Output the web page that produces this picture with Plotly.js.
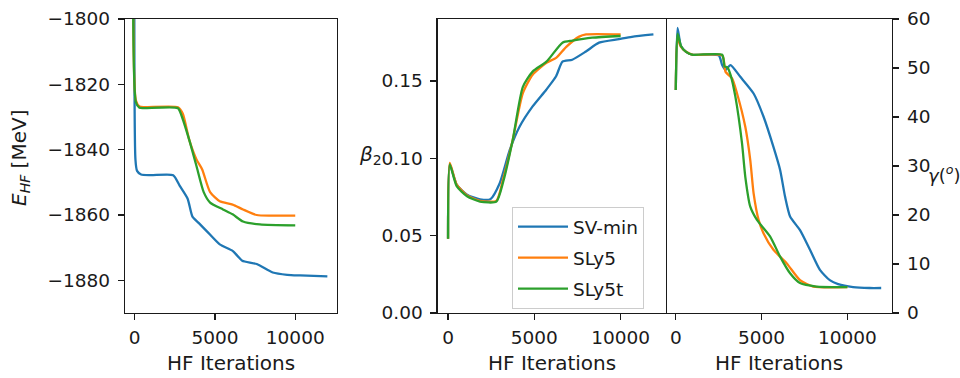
<!DOCTYPE html>
<html>
<head>
<meta charset="utf-8">
<script src="https://cdn.plot.ly/plotly-3.0.1.min.js"></script>
<style>html,body{margin:0;padding:0;background:#fff;}#chart{width:960px;height:378px;}</style>
</head>
<body>
<div id="chart"></div>
<script>
// ---- Data ----
const seriesNames = ["SV-min", "SLy5", "SLy5t"];
const colors = ["#1f77b4", "#ff7f0e", "#2ca02c"];

// Panel 1: E_HF [MeV] vs HF iterations
const eSVminX = [0, 50, 150, 400, 1000, 2400, 2800, 3300, 3600, 4000, 4500, 5300, 6100, 6400, 6700, 7600, 8600, 9500, 10300, 12000];
const eSVminY = [-1700, -1843, -1846.5, -1847.6, -1847.8, -1847.8, -1851, -1855, -1860.5, -1862.5, -1865, -1869, -1871, -1872.5, -1874, -1875, -1877.6, -1878.3, -1878.5, -1878.8];
const eSLy5X = [0, 80, 300, 600, 2700, 3000, 3400, 3850, 4200, 4700, 5300, 6100, 6750, 7600, 8500, 10000];
const eSLy5Y = [-1700, -1825, -1826.8, -1827, -1827, -1829, -1837, -1843, -1846, -1853, -1855.8, -1856.8, -1858.3, -1860, -1860.2, -1860.2];
const eSLy5tX = [0, 80, 300, 600, 2700, 2900, 3400, 3850, 4300, 4700, 5500, 6100, 6750, 7800, 10000];
const eSLy5tY = [-1700, -1825.5, -1827.2, -1827.3, -1827.3, -1829.3, -1837, -1845, -1853, -1856.2, -1858.3, -1859.8, -1862, -1862.9, -1863.2];

// Panel 2: beta_2 vs HF iterations
const bSVminX = [0, 100, 500, 1100, 1850, 2450, 3000, 3580, 4150, 4900, 5690, 6260, 6630, 7200, 7990, 8750, 9900, 10650, 11900];
const bSVminY = [0.048, 0.096, 0.083, 0.0765, 0.0735, 0.0735, 0.084, 0.1055, 0.1205, 0.1335, 0.1443, 0.153, 0.1624, 0.1637, 0.169, 0.1747, 0.177, 0.1785, 0.18];
const bSLy5X = [0, 100, 500, 1100, 1850, 2800, 3180, 3750, 4330, 4900, 5700, 6280, 6850, 7600, 8000, 10000];
const bSLy5Y = [0.048, 0.097, 0.083, 0.076, 0.0725, 0.0725, 0.086, 0.112, 0.142, 0.154, 0.1617, 0.165, 0.172, 0.1786, 0.18, 0.18];
const bSLy5tX = [0, 100, 500, 1100, 1850, 2800, 3200, 3750, 4330, 4900, 5700, 6630, 7200, 8350, 10000];
const bSLy5tY = [0.048, 0.096, 0.082, 0.0755, 0.072, 0.072, 0.085, 0.112, 0.146, 0.156, 0.1624, 0.1747, 0.176, 0.1779, 0.179];

// Panel 3: gamma (deg) vs HF iterations
const gSVminX = [0, 100, 300, 600, 1000, 2500, 2700, 2900, 3185, 3760, 4535, 5110, 5690, 6080, 6370, 6660, 7240, 7820, 8400, 8975, 9460, 10330, 11290, 11970];
const gSVminY = [45.5, 58.2, 54.5, 53.3, 52.7, 52.6, 50.6, 49.6, 50.6, 48.2, 44.8, 40.1, 33.9, 29.2, 23.7, 19.7, 16.9, 12.9, 8.8, 6.7, 5.9, 5.3, 5.1, 5.1];
const gSLy5X = [0, 100, 300, 600, 1000, 2700, 2900, 3280, 3570, 4050, 4340, 4535, 4825, 5110, 5690, 6470, 7240, 8010, 10000];
const gSLy5Y = [45.5, 56, 54.3, 53.3, 52.7, 52.6, 49.2, 47.9, 44.8, 38, 31.2, 24.4, 19, 16.3, 12.9, 10.1, 6.7, 5.4, 5.3];
const gSLy5tX = [0, 100, 300, 600, 1000, 2700, 2850, 3000, 3200, 3475, 3860, 4050, 4340, 4730, 5500, 6080, 6660, 7240, 8200, 10000];
const gSLy5tY = [45.5, 57, 54.5, 53.3, 52.7, 52.7, 50.3, 50.2, 48.5, 44.1, 34.6, 27.8, 21.7, 19, 15.6, 11.5, 8.1, 6.1, 5.4, 5.3];

const xTickVals = [0, 5000, 10000];
const eTickVals = [-1880, -1860, -1840, -1820, -1800];
const bTickVals = [0, 0.05, 0.10, 0.15];
const gTickVals = [0, 10, 20, 30, 40, 50, 60];

// ---- Build traces ----
const panels = [
  {xs: [eSVminX, eSLy5X, eSLy5tX], ys: [eSVminY, eSLy5Y, eSLy5tY], xa: "x", ya: "y", legend: false},
  {xs: [bSVminX, bSLy5X, bSLy5tX], ys: [bSVminY, bSLy5Y, bSLy5tY], xa: "x2", ya: "y2", legend: true},
  {xs: [gSVminX, gSLy5X, gSLy5tX], ys: [gSVminY, gSLy5Y, gSLy5tY], xa: "x3", ya: "y3", legend: false}
];
const traces = [];
panels.forEach(p => {
  for (let i = 0; i < 3; i++) {
    traces.push({
      type: "scatter", mode: "lines",
      x: p.xs[i], y: p.ys[i], xaxis: p.xa, yaxis: p.ya,
      name: seriesNames[i], legendgroup: seriesNames[i], showlegend: p.legend,
      line: {color: colors[i], width: 2.3, shape: "spline", smoothing: 0.6}
    });
  }
});

const FONT = "DejaVu Sans, sans-serif";
const TICK = 18.5, TITLE = 20;
const axisCommon = {
  showline: true, mirror: true, linecolor: "#1a1a1a", linewidth: 1.3,
  ticks: "outside", ticklen: 6, tickwidth: 1.3, tickcolor: "#1a1a1a",
  showgrid: false, zeroline: false, ticklabelstandoff: 4,
  tickfont: {family: FONT, size: TICK, color: "#1a1a1a"}
};
const xCommon = Object.assign({}, axisCommon, {ticklabelstandoff: 1, range: [-600, 12600], tickvals: xTickVals, tickformat: "d"});
const H = 378, W = 960;
const yDom = [1 - 313 / H, 1 - 19 / H];
function px(x) { return x / W; }
function titleAnn(text, x, y, extra) {
  return Object.assign({text: text, xref: "paper", yref: "paper", x: px(x), y: 1 - y / H,
    xanchor: "center", yanchor: "middle", showarrow: false,
    font: {family: FONT, size: TITLE, color: "#1a1a1a"}}, extra || {});
}

const layout = {
  width: W, height: H,
  margin: {l: 0, r: 0, t: 0, b: 0},
  paper_bgcolor: "#fff", plot_bgcolor: "#fff",
  font: {family: FONT, size: TICK, color: "#1a1a1a"},
  showlegend: true,
  legend: {
    x: px(512), y: 1 - 207 / H, xanchor: "left", yanchor: "top",
    bgcolor: "rgba(255,255,255,0.8)", bordercolor: "#cccccc", borderwidth: 1,
    font: {family: FONT, size: TICK, color: "#1a1a1a"},
    itemwidth: 50, tracegroupgap: 4
  },
  xaxis: Object.assign({}, xCommon, {domain: [px(125), px(337)], anchor: "y"}),
  yaxis: Object.assign({}, axisCommon, {domain: yDom, range: [-1890, -1800], anchor: "x", tickvals: eTickVals}),
  xaxis2: Object.assign({}, xCommon, {domain: [px(437.7), px(665.5)], anchor: "y2"}),
  yaxis2: Object.assign({}, axisCommon, {domain: yDom, range: [0, 0.19], anchor: "x2", tickvals: bTickVals, tickformat: ".2f"}),
  xaxis3: Object.assign({}, xCommon, {domain: [px(665.5), px(892)], anchor: "y3"}),
  yaxis3: Object.assign({}, axisCommon, {domain: yDom, range: [0, 60], anchor: "x3", side: "right", mirror: false, tickvals: gTickVals}),
  annotations: [
    titleAnn("HF Iterations", 231, 363),
    titleAnn("HF Iterations", 551.6, 363),
    titleAnn("HF Iterations", 778.7, 363),
    titleAnn("<i>E</i><sub><i>HF</i></sub> [MeV]", 20, 158, {textangle: -90}),
    titleAnn("<i>β</i><sub>2</sub>", 370, 155),
    titleAnn("<i>γ</i>(<sup><i>o</i></sup>)", 927, 174, {xanchor: "left", borderpad: 0, font: {family: FONT, size: 18, color: "#1a1a1a"}})
  ]
};

Plotly.newPlot("chart", traces, layout, {staticPlot: true, displayModeBar: false});
</script>
</body>
</html>
